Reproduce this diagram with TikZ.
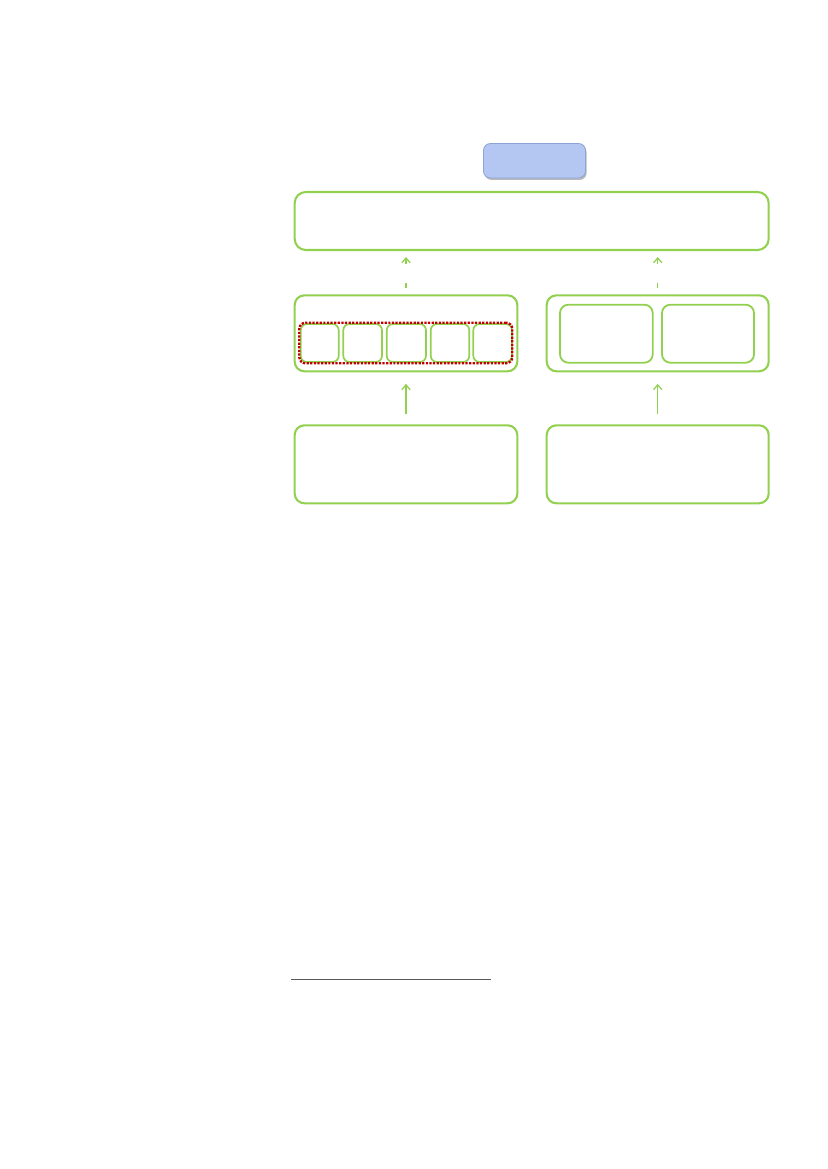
\documentclass[tikz,border=0pt]{standalone}
\usetikzlibrary{fit,arrows.meta,shadows}
\definecolor{gline}{RGB}{146,208,80}
\definecolor{dred}{RGB}{192,0,0}
\definecolor{bfill}{RGB}{180,199,243}
\definecolor{bdraw}{RGB}{140,163,216}
\definecolor{fgray}{RGB}{90,90,90}
\tikzset{
  gbox/.style={draw=gline, line width=1.5pt, rounded corners=7pt, inner sep=0pt, fill=white},
  gsmall/.style={draw=gline, line width=1.2pt, rounded corners=4.5pt, inner sep=0pt},
  gmed/.style={draw=gline, line width=1.3pt, rounded corners=6pt, inner sep=0pt},
  redgrp/.style={draw=dred, line width=1.7pt, dash pattern=on 1.6pt off 1pt, rounded corners=4.5pt, inner sep=0pt},
  bluebox/.style={draw=bdraw, line width=0.6pt, fill=bfill, rounded corners=5pt, inner sep=0pt,
     drop shadow={shadow xshift=0.8pt, shadow yshift=-1.4pt, opacity=0.45, fill=black!60}},
  garrow/.style={draw=gline, line width=0.9pt, -{Straight Barb[length=3.5pt,width=6pt]}},
}
\begin{document}
\begin{tikzpicture}[x=0.72pt,y=-0.72pt]
\useasboundingbox (0,0) rectangle (827,1169);
% blue header
\node[bluebox, fit={(483.5,143.5) (585.5,178)}] (hdr) {};
% top wide box
\node[gbox, rounded corners=8pt, fit={(294.7,192) (768.7,250)}] (top) {};
% middle row
\node[gbox, fit={(294.7,295.3) (517.3,371.3)}] (mL) {};
\node[gbox, fit={(546.7,295.3) (768.7,371.3)}] (mR) {};
% small boxes in left
\node[gsmall, fit={(300.7,324) (338.7,362)}] (s1) {};
\node[gsmall, fit={(343.3,324) (382,362)}] (s2) {};
\node[gsmall, fit={(386.7,324) (426,362)}] (s3) {};
\node[gsmall, fit={(430.7,324) (469.3,362)}] (s4) {};
\node[gsmall, fit={(473.3,324) (512,362)}] (s5) {};
\node[redgrp, fit={(299.3,322.7) (512.3,363.3)}] (grp) {};
% inner right boxes
\node[gmed, fit={(560,304.7) (652.7,362.7)}] (r1) {};
\node[gmed, fit={(662,304.7) (754,362.7)}] (r2) {};
% bottom row
\node[gbox, fit={(294.7,425.3) (517.3,503.3)}] (bL) {};
\node[gbox, fit={(546.7,425.3) (768.7,503.3)}] (bR) {};
% arrows bottom -> middle
\draw[garrow, shorten <=7.2pt, shorten >=8.3pt] (bL.north) -- (mL.south);
\draw[garrow, shorten <=7.2pt, shorten >=8.3pt] (bR.north) -- (mR.south);
% dashed arrows middle -> top
\draw[garrow, shorten <=4.5pt, shorten >=4.3pt, dash pattern=on 3.6pt off 13.5pt on 20pt] (mL.north) -- (top.south -| mL.north);
\draw[garrow, shorten <=4.5pt, shorten >=4.3pt, dash pattern=on 3.6pt off 13.5pt on 20pt] (mR.north) -- (top.south -| mR.north);
% footnote rule
\coordinate (fa) at (291.3,979.3);
\coordinate (fb) at (491.3,979.3);
\draw[fgray, line width=0.8pt] (fa) -- (fb);
\end{tikzpicture}
\end{document}
